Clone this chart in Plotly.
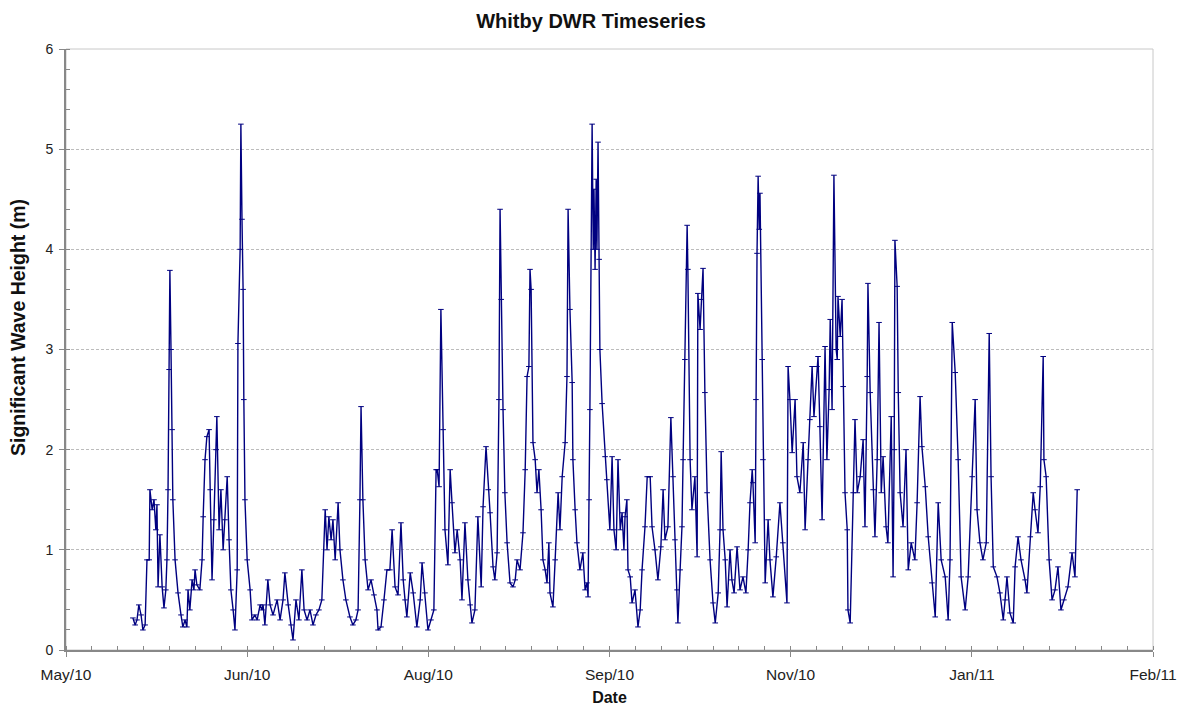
import pandas as pd
import plotly.graph_objects as go

# ---- data ----
# time of each reading, in days after 1 May 2010
day_offset = [
    18.1, 18.7, 19.2, 19.7, 20.3, 20.8, 21.4, 21.9, 22.5, 22.7, 23.3, 23.8, 24.3, 24.6, 24.9, 25.4,
    26.0, 26.5, 27.0, 27.3, 27.6, 27.9, 28.1, 28.4, 28.7, 28.9, 29.5, 30.3, 31.1, 31.6, 32.2, 32.7,
    33.0, 33.5, 34.1, 34.6, 34.9, 35.4, 36.2, 36.8, 37.1, 37.6, 38.1, 38.7, 39.0, 39.5, 40.0, 40.6,
    40.8, 41.4, 41.9, 42.5, 43.0, 43.6, 44.1, 44.6, 45.2, 45.7, 46.3, 46.5, 47.1, 47.3, 47.6, 47.9,
    48.1, 48.4, 49.0, 49.8, 50.3, 51.1, 51.7, 52.5, 53.0, 53.3, 53.8, 54.6, 55.2, 56.0, 57.1, 57.9,
    58.7, 59.2, 60.1, 60.9, 61.4, 62.2, 63.0, 63.8, 64.4, 65.2, 66.0, 66.8, 67.6, 68.4, 69.2, 70.1,
    70.6, 71.1, 71.7, 72.2, 72.8, 73.6, 74.1, 74.9, 75.7, 76.8, 77.6, 78.4, 79.0, 79.5, 79.8, 80.3,
    80.9, 81.7, 82.5, 83.3, 84.1, 84.4, 85.2, 86.0, 86.8, 87.6, 88.2, 89.0, 89.8, 90.6, 91.2, 91.7,
    92.2, 93.1, 93.9, 94.9, 95.8, 96.3, 97.1, 97.9, 98.7, 99.5, 100.1, 100.4, 100.9, 101.4, 102.0, 102.5,
    103.3, 103.9, 104.4, 105.2, 105.8, 106.6, 107.1, 107.9, 108.7, 109.3, 109.8, 110.6, 111.4, 112.3, 112.8, 113.6,
    114.2, 114.7, 115.5, 116.0, 116.6, 117.1, 117.4, 117.7, 118.2, 118.7, 119.3, 120.1, 120.9, 121.5, 122.0, 122.8,
    123.6, 124.2, 124.7, 125.2, 125.5, 125.8, 126.3, 126.9, 127.4, 127.9, 128.5, 129.0, 129.6, 130.1, 130.6, 130.9,
    131.7, 132.3, 133.1, 133.6, 134.2, 135.0, 135.5, 135.8, 136.3, 136.9, 137.1, 137.7, 138.2, 139.0, 139.8, 140.4,
    140.9, 141.2, 141.5, 141.7, 142.3, 142.6, 142.8, 143.1, 143.4, 143.6, 143.9, 144.2, 144.4, 145.0, 145.8, 146.3,
    147.1, 147.7, 148.2, 148.8, 149.3, 149.9, 150.4, 150.9, 151.2, 151.7, 152.0, 152.6, 153.1, 153.9, 154.7, 155.3,
    155.8, 156.6, 157.2, 158.0, 158.5, 159.3, 160.1, 160.9, 161.5, 162.0, 162.8, 163.6, 164.2, 164.7, 165.3, 165.5,
    166.1, 166.6, 166.9, 167.4, 168.0, 168.2, 168.8, 169.3, 170.1, 170.7, 170.9, 171.5, 171.8, 172.3, 172.8, 173.4,
    174.2, 175.0, 175.6, 176.4, 176.9, 177.2, 177.7, 178.3, 178.8, 179.6, 180.1, 180.7, 181.5, 182.3, 183.1, 183.9,
    184.5, 185.0, 185.6, 185.8, 186.4, 186.6, 186.9, 187.2, 187.5, 187.7, 188.3, 188.5, 189.1, 189.9, 190.4, 191.2,
    192.1, 193.1, 193.9, 195.0, 195.3, 195.8, 196.4, 197.2, 197.7, 198.5, 199.4, 199.9, 200.7, 201.2, 201.8, 202.3,
    203.1, 203.4, 203.9, 204.5, 205.3, 205.8, 206.4, 206.7, 207.2, 207.7, 208.3, 208.6, 208.8, 209.4, 209.9, 210.2,
    210.7, 211.3, 211.5, 212.1, 212.9, 213.4, 214.0, 214.8, 215.6, 216.1, 216.7, 216.9, 217.5, 218.3, 218.8, 219.4,
    219.9, 220.5, 221.0, 221.8, 222.3, 223.2, 223.7, 224.0, 224.2, 224.8, 225.1, 225.6, 226.4, 227.2, 227.8, 228.6,
    229.6, 230.2, 231.0, 231.5, 232.4, 233.2, 234.2, 235.1, 235.9, 236.7, 237.8, 238.6, 239.1, 239.7, 240.5, 241.3,
    242.1, 243.2, 244.0, 245.1, 245.9, 246.4, 247.2, 248.0, 248.9, 249.7, 250.2, 250.8, 251.8, 252.6, 253.5, 254.0,
    254.5, 255.3, 256.2, 256.7, 257.5, 258.3, 259.4, 259.9, 260.8, 261.6, 262.1, 262.9, 263.5, 264.3, 264.5, 265.1,
    265.9, 266.7, 267.5, 268.3, 269.1, 269.9, 271.0, 272.1, 272.9, 273.5,
]

# significant wave height (m)
hs_m = [
    0.32, 0.25, 0.30, 0.45, 0.35, 0.20, 0.25, 0.90, 0.90, 1.60, 1.40, 1.50, 1.20, 1.45, 0.63, 1.15,
    0.63, 0.42, 0.60, 0.90, 1.60, 2.80, 3.79, 3.00, 2.20, 1.50, 0.90, 0.57, 0.35, 0.23, 0.30, 0.23,
    0.60, 0.40, 0.70, 0.60, 0.80, 0.65, 0.60, 0.90, 1.33, 1.90, 2.13, 2.20, 1.60, 0.70, 1.30, 2.00,
    2.33, 1.20, 1.60, 1.00, 1.30, 1.73, 1.10, 0.60, 0.40, 0.20, 0.80, 3.06, 4.00, 5.25, 4.30, 3.60,
    2.50, 1.50, 0.90, 0.60, 0.30, 0.35, 0.30, 0.45, 0.40, 0.45, 0.25, 0.70, 0.45, 0.35, 0.50, 0.30,
    0.50, 0.77, 0.45, 0.25, 0.10, 0.50, 0.30, 0.80, 0.40, 0.30, 0.40, 0.25, 0.35, 0.40, 0.50, 1.40,
    1.00, 1.33, 1.10, 1.30, 0.90, 1.47, 1.00, 0.70, 0.50, 0.33, 0.25, 0.30, 0.40, 1.50, 2.43, 1.50,
    0.90, 0.60, 0.70, 0.55, 0.40, 0.20, 0.23, 0.50, 0.80, 0.80, 1.20, 0.63, 0.55, 1.27, 0.70, 0.50,
    0.33, 0.77, 0.57, 0.23, 0.50, 0.87, 0.57, 0.20, 0.30, 0.40, 1.80, 1.80, 1.63, 3.40, 2.20, 1.20,
    0.85, 1.80, 1.47, 0.97, 1.20, 0.90, 0.50, 1.27, 0.70, 0.45, 0.27, 0.40, 1.33, 0.63, 1.43, 2.03,
    1.60, 1.37, 0.83, 0.70, 0.97, 2.50, 4.40, 3.50, 2.40, 1.57, 1.07, 0.67, 0.63, 0.70, 0.90, 0.80,
    1.17, 1.80, 2.73, 2.83, 3.80, 3.60, 2.07, 1.90, 1.57, 1.80, 1.40, 0.90, 0.80, 0.67, 1.07, 0.57,
    0.43, 0.90, 1.57, 1.20, 1.73, 2.07, 2.73, 4.40, 3.40, 2.67, 1.90, 1.40, 1.07, 0.80, 0.97, 0.60,
    0.67, 0.53, 1.50, 2.40, 5.25, 4.00, 4.60, 3.80, 4.70, 4.00, 5.07, 3.90, 3.00, 2.46, 1.93, 1.70,
    1.20, 1.93, 1.20, 1.00, 1.90, 1.20, 1.37, 1.00, 1.33, 1.50, 0.80, 0.73, 0.47, 0.60, 0.23, 0.40,
    0.80, 1.23, 1.73, 1.73, 1.23, 1.00, 0.70, 1.03, 1.60, 1.10, 1.23, 2.32, 1.73, 1.10, 0.60, 0.27,
    0.80, 1.23, 1.90, 2.90, 4.24, 3.80, 1.90, 1.40, 1.73, 0.93, 3.56, 3.20, 3.50, 3.81, 2.57, 1.57,
    0.90, 0.47, 0.27, 0.57, 1.20, 1.98, 1.20, 0.90, 0.43, 1.00, 0.70, 0.57, 1.03, 0.60, 0.73, 0.57,
    1.00, 1.47, 1.80, 1.67, 1.07, 2.50, 3.96, 4.73, 4.20, 4.56, 2.90, 1.90, 0.67, 1.30, 0.90, 0.53,
    0.93, 1.47, 1.07, 0.47, 2.83, 2.50, 1.97, 2.50, 1.73, 1.57, 2.07, 1.20, 1.90, 2.30, 2.83, 2.33,
    2.83, 2.93, 2.23, 1.30, 3.03, 1.90, 2.60, 3.30, 2.40, 4.74, 3.00, 2.90, 3.53, 3.13, 3.50, 2.63,
    1.57, 1.20, 0.40, 0.27, 1.57, 2.30, 1.57, 1.73, 2.10, 1.23, 2.73, 3.66, 2.57, 1.60, 1.13, 1.90,
    3.27, 1.57, 1.93, 1.23, 1.07, 2.33, 0.73, 2.00, 4.09, 3.63, 2.57, 1.57, 1.23, 2.00, 0.80, 1.07,
    0.90, 1.47, 2.53, 2.03, 1.63, 1.13, 0.67, 0.33, 1.47, 0.90, 0.73, 0.30, 0.90, 3.27, 2.77, 1.90,
    0.73, 0.40, 0.73, 1.73, 2.50, 1.40, 1.07, 0.90, 1.07, 3.16, 1.73, 0.83, 0.73, 0.57, 0.30, 0.50,
    0.73, 0.37, 0.27, 0.83, 1.13, 0.90, 0.70, 0.57, 1.13, 1.57, 1.40, 1.17, 1.63, 2.93, 1.90, 1.73,
    0.90, 0.50, 0.60, 0.83, 0.40, 0.50, 0.63, 0.97, 0.73, 1.60,
]

axis_start = "2010-05-01"
tick_step_days = 49
tick_labels = ["May/10", "Jun/10", "Aug/10", "Sep/10", "Nov/10", "Jan/11", "Feb/11"]
y_range = [0, 6]

# ---- build ----
t0 = pd.Timestamp(axis_start)
dates = [t0 + pd.Timedelta(days=d) for d in day_offset]
tick_dates = [t0 + pd.Timedelta(days=tick_step_days * i) for i in range(len(tick_labels))]

FONT = "Liberation Sans, Arial, sans-serif"
AX = "#888888"
TXT = "#222222"

fig = go.Figure()
fig.add_trace(go.Scatter(
    x=dates, y=hs_m, mode="lines+markers",
    line=dict(color="#000080", width=1.4),
    marker=dict(symbol="line-ew", size=4, color="#000080",
                line=dict(color="#000080", width=1)),
    showlegend=False,
))

# the page adds an 8px body margin, so the figure is 16px smaller than the window
fig.update_layout(
    width=1185, height=698,
    margin=dict(l=58, r=40, t=41, b=56),
    paper_bgcolor="white", plot_bgcolor="white",
    font=dict(family=FONT, color=TXT, size=15),
    title=dict(text="<b>Whitby DWR Timeseries</b>", x=0.492, xanchor="center",
               y=0.981, yanchor="middle", font=dict(size=20, color="#111111")),
    shapes=[dict(type="rect", xref="paper", yref="paper", x0=0, x1=1, y0=0, y1=1,
                 line=dict(color="#c8c8c8", width=1), layer="below")],
    annotations=[dict(text="<b>Significant Wave Height (m)</b>", textangle=-90,
                      xref="paper", yref="paper", x=-0.044, y=0.536,
                      xanchor="center", yanchor="middle", showarrow=False,
                      font=dict(size=19.5, color="#111111"))],
)

fig.update_xaxes(
    type="date",
    range=[tick_dates[0], tick_dates[-1]],
    tickmode="array", tickvals=tick_dates, ticktext=tick_labels,
    ticks="outside", ticklen=5, tickcolor=AX, tickwidth=1,
    showline=True, linecolor=AX, linewidth=2,
    showgrid=False, zeroline=False,
    tickfont=dict(size=15.5, color=TXT),
    ticklabelstandoff=4,
    minor=dict(ticks="inside", ticklen=4, tickcolor=AX, tick0=axis_start,
               dtick=7 * 86400000, showgrid=False),
    title=dict(text="<b>Date</b>", font=dict(size=16, color="#111111"), standoff=12),
    automargin=False,
)

fig.update_yaxes(
    range=y_range, dtick=1, tick0=0,
    ticks="outside", ticklen=5, tickcolor=AX, tickwidth=1,
    showline=True, linecolor=AX, linewidth=2,
    showgrid=True, gridcolor="#bcbcbc", gridwidth=1, griddash="3px,2px",
    zeroline=False,
    tickfont=dict(size=14, color=TXT),
    ticklabelstandoff=3,
    minor=dict(ticks="inside", ticklen=4, tickcolor=AX, dtick=0.2, showgrid=False),
    automargin=False,
)

fig.write_html("out.html")
